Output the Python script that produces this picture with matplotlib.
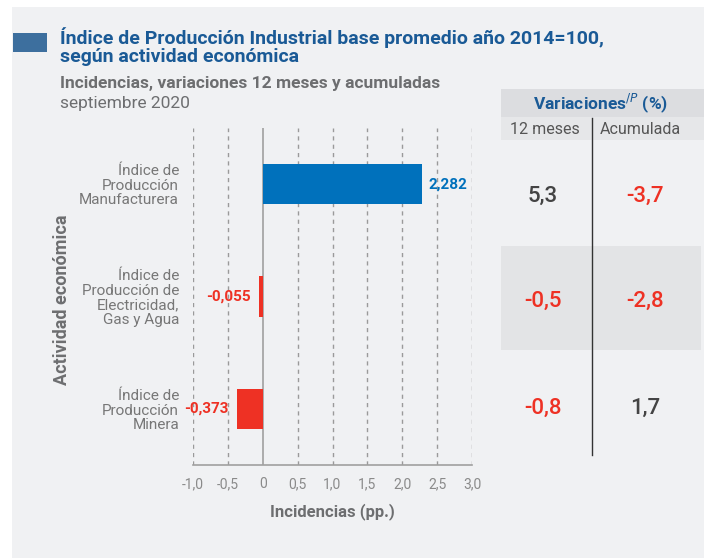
import matplotlib.pyplot as plt
from matplotlib.patches import Rectangle
import numpy as np

plt.rcParams["font.family"] = ["Roboto", "DejaVu Sans"]

categorias = ["Índice de\nProducción\nManufacturera",
              "Índice de\nProducción de\nElectricidad,\nGas y Agua",
              "Índice de\nProducción\nMinera"]
incidencias = [2.282, -0.055, -0.373]
var_12m = [5.3, -0.5, -0.8]
var_acum = [-3.7, -2.8, 1.7]
xticks = [-1.0, -0.5, 0, 0.5, 1.0, 1.5, 2.0, 2.5, 3.0]

AZUL = "#0071bc"
ROJO = "#ee3124"
FONDO = "#f0f1f3"


def coma(v, d):
    if v == 0:
        return "0"
    return f"{v:.{d}f}".replace(".", ",")


fig = plt.figure(figsize=(7.04, 5.58), dpi=100)
fig.patch.set_facecolor("white")
# fondo gris con margen blanco arriba/izquierda
fig.add_artist(Rectangle((12/704, 0), 1, 1 - 7/558, transform=fig.transFigure,
                         facecolor=FONDO, edgecolor="none", zorder=0))
fig.add_artist(Rectangle((13/704, 1 - 52/558), 34/704, 19/558, transform=fig.transFigure,
                         facecolor="#3d6f9e", edgecolor="none"))

fig.text(60/704, 1 - 44/558, "Índice de Producción Industrial base promedio año 2014=100,",
         fontsize=14, fontweight="bold", color="#1a5a96", va="baseline")
fig.text(60/704, 1 - 62/558, "según actividad económica",
         fontsize=14, fontweight="bold", color="#1a5a96", va="baseline")
fig.text(60/704, 1 - 88/558, "Incidencias, variaciones 12 meses y acumuladas",
         fontsize=12.5, fontweight="bold", color="#6d6e70", va="baseline")
fig.text(60/704, 1 - 108/558, "septiembre 2020",
         fontsize=12.5, color="#6d6e70", va="baseline")

ax = fig.add_axes([193/704, 93/558, 279/704, 337/558])
ax.set_facecolor("none")
y = np.arange(len(categorias))
colores = [AZUL if v > 0 else ROJO for v in incidencias]
ax.barh(y, incidencias, height=0.36, color=colores, zorder=3)
ax.set_xlim(-1.0, 3.0)
ax.set_ylim(2.5, -0.5)

for t in xticks:
    if t == 0:
        ax.axvline(t, color="#a0a0a0", lw=1.2, zorder=2)
    else:
        ax.axvline(t, color="#9a9a9a", lw=1, ls=(0, (3, 3)), zorder=1)

for yi, v, c in zip(y, incidencias, colores):
    if v > 0:
        ax.text(v + 0.09, yi, coma(v, 3), color=c, fontsize=11, fontweight="bold",
                ha="left", va="center")
    else:
        ax.text(v - 0.12, yi, coma(v, 3), color=c, fontsize=11, fontweight="bold",
                ha="right", va="center")

ax.set_xticks(xticks)
ax.set_xticklabels([coma(t, 1) for t in xticks], fontsize=10, color="#8a8a8a")
ax.tick_params(axis="x", length=0, pad=9)
ax.set_yticks(y)
ax.set_yticklabels(categorias, fontsize=11, color="#777777", linespacing=1.05)
ax.tick_params(axis="y", length=0, pad=10)
for s in ["top", "left", "right"]:
    ax.spines[s].set_visible(False)
ax.spines["bottom"].set_color("#a0a0a0")
ax.spines["bottom"].set_linewidth(1.2)
ax.set_xlabel("Incidencias (pp.)", fontsize=12, fontweight="bold", color="#6d6e70",
              labelpad=8)
fig.text(62/704, 1 - 300/558, "Actividad económica", rotation=90, fontsize=13,
         fontweight="bold", color="#6d6e70", ha="center", va="center")

# tabla de variaciones
x0, x1 = 501/704, 1.0
fig.add_artist(Rectangle((x0, 1 - 117/558), x1 - x0, 28/558, transform=fig.transFigure,
                         facecolor="#dcdde0", edgecolor="none"))
fig.add_artist(Rectangle((x0, 1 - 140/558), x1 - x0, 23/558, transform=fig.transFigure,
                         facecolor="#e6e7e9", edgecolor="none"))
fig.add_artist(Rectangle((x0, 1 - 350/558), 200/704, 104/558, transform=fig.transFigure,
                         facecolor="#e3e4e6", edgecolor="none"))
fig.text(601/704, 1 - 103/558, r"Variaciones$^{/P}$ (%)", fontsize=12.5, fontweight="bold",
         color="#1a5a96", ha="center", va="center")
fig.text(545/704, 1 - 129/558, "12 meses", fontsize=11.5, color="#555555",
         ha="center", va="center")
fig.text(640/704, 1 - 129/558, "Acumulada", fontsize=11.5, color="#555555",
         ha="center", va="center")
fig.add_artist(plt.Line2D([592/704, 592/704], [1 - 118/558, 1 - 455/558],
                          transform=fig.transFigure, color="#333333", lw=1))
filas_y = [196, 301, 408]
for fy, a, b in zip(filas_y, var_12m, var_acum):
    for cx, v in ((543, a), (645, b)):
        fig.text(cx/704, 1 - fy/558, coma(v, 1), fontsize=16, fontweight="medium",
                 color=ROJO if v < 0 else "#444444", ha="center", va="center")

fig.savefig("out.png", dpi=100, facecolor=fig.get_facecolor())
